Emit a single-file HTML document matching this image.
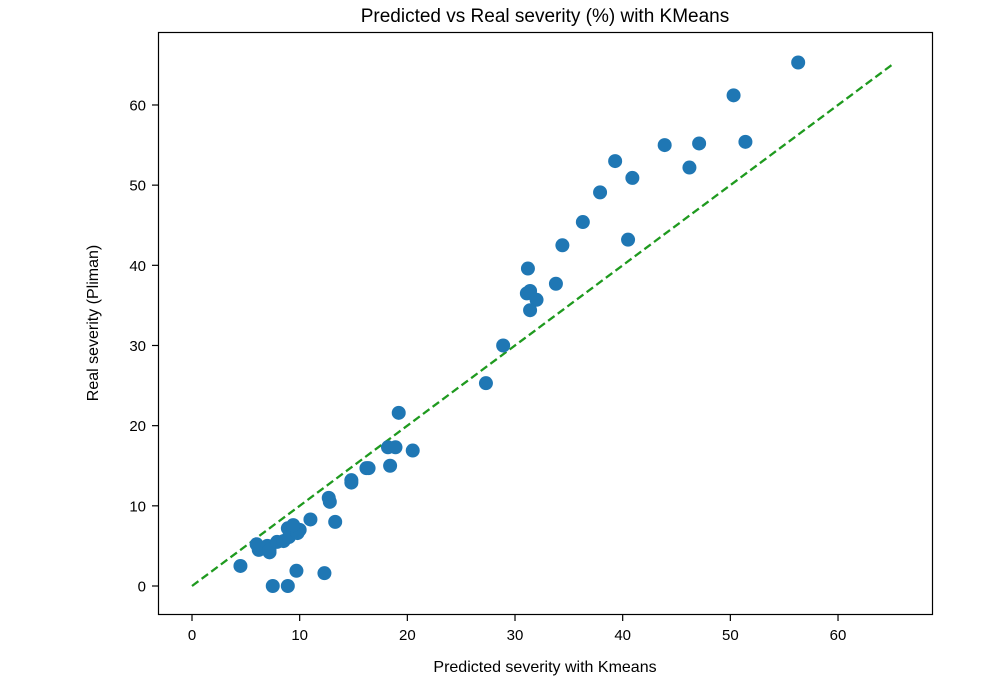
<!DOCTYPE html>
<html><head><meta charset="utf-8"><style>body{margin:0;background:#fff}svg{display:block;font-family:"Liberation Sans","DejaVu Sans",sans-serif}</style></head>
<body>
<svg id="chart" width="993" height="679">
<rect x="158.5" y="32.5" width="774" height="582" fill="none" stroke="#000" stroke-width="1.2"/>
<text x="545" y="22" font-size="19" text-anchor="middle">Predicted vs Real severity (%) with KMeans</text>
<text x="545" y="672" font-size="16" text-anchor="middle">Predicted severity with Kmeans</text>
<text transform="translate(98,323) rotate(-90)" font-size="16" text-anchor="middle">Real severity (Pliman)</text>
<g id="ticks"></g><g id="line"></g><g id="pts"></g>
</svg>
<script>
const xTicks=[0,10,20,30,40,50,60];
const yTicks=[0,10,20,30,40,50,60];
const predicted=[4.5,7.5,8.9,9.7,12.3,6.2,6.0,7.0,7.2,7.2,7.9,8.5,8.9,9.3,9.6,10.0,9.0,9.8,9.4,11.0,13.3,12.7,12.8,14.8,14.8,16.2,16.4,18.2,18.9,18.4,19.2,20.5,27.3,28.9,31.2,31.1,31.4,32.0,31.4,33.8,34.4,36.3,37.9,39.3,40.5,40.9,43.9,46.2,47.1,50.3,51.4,56.3];
const real=[2.5,0,0,1.9,1.6,4.5,5.2,5.0,4.2,4.5,5.5,5.6,7.2,6.6,6.8,7.0,6.1,6.6,7.6,8.3,8.0,11.0,10.5,13.2,12.9,14.7,14.7,17.3,17.3,15.0,21.6,16.9,25.3,30.0,39.6,36.5,36.8,35.7,34.4,37.7,42.5,45.4,49.1,53.0,43.2,50.9,55.0,52.2,55.2,61.2,55.4,65.3];
const ideal=[0,65];
const NS='http://www.w3.org/2000/svg';
const sx=v=>192+v*10.767, sy=v=>586-v*8.017;
function mk(t,a,p){const e=document.createElementNS(NS,t);for(const k in a)e.setAttribute(k,a[k]);p.appendChild(e);return e;}
const tg=document.getElementById('ticks');
xTicks.forEach(v=>{const x=sx(v);
 const l=mk('line',{x1:x,x2:x,y1:614.5,y2:621,stroke:'#000','stroke-width':1.2},tg);
 
 
 const t=mk('text',{x:x,y:640,'font-size':15,'text-anchor':'middle'},tg);t.textContent=v;
 
 });
yTicks.forEach(v=>{const y=sy(v);
 const l=mk('line',{x1:152,x2:158.5,y1:y,y2:y,stroke:'#000','stroke-width':1.2},tg);
 
 
 const t=mk('text',{x:146,y:y+5.5,'font-size':15,'text-anchor':'end'},tg);t.textContent=v;
 
 });
const ln=mk('line',{x1:sx(ideal[0]),y1:sy(ideal[0]),x2:sx(ideal[1]),y2:sy(ideal[1]),stroke:'#1f9a1f','stroke-width':2.3,'stroke-dasharray':'8,4'},document.getElementById('line'));


const pg=document.getElementById('pts');
predicted.forEach((p,i)=>{const c=mk('circle',{cx:sx(p),cy:sy(real[i]),r:7,fill:'#1f77b4'},pg);
 
 });
</script>
</body></html>
